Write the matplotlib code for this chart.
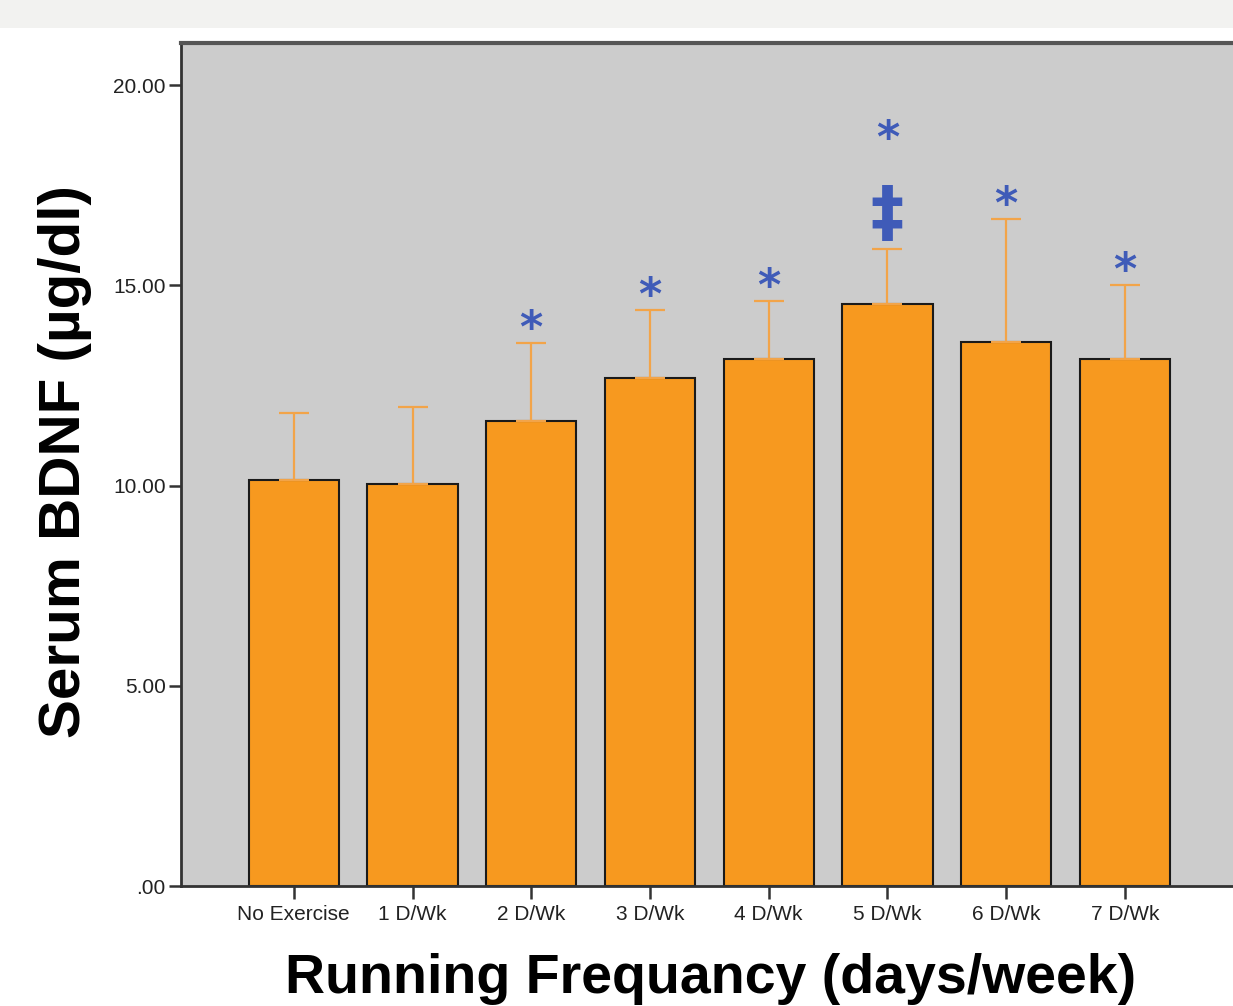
import matplotlib.pyplot as plt
from matplotlib.patches import Rectangle

# data
groups = ["No Exercise", "1 D/Wk", "2 D/Wk", "3 D/Wk", "4 D/Wk", "5 D/Wk", "6 D/Wk", "7 D/Wk"]
means = [10.14, 10.04, 11.61, 12.68, 13.16, 14.53, 13.58, 13.16]
err_up = [1.67, 1.92, 1.95, 1.70, 1.45, 1.37, 3.07, 1.85]
star_marks = [False, False, True, True, True, True, True, True]
dagger_marks = [False, False, False, False, False, True, False, False]
y_ticks = [0, 5, 10, 15, 20]
y_tick_labels = [".00", "5.00", "10.00", "15.00", "20.00"]

plt.rcParams["font.family"] = ["Liberation Sans", "DejaVu Sans"]

fig = plt.figure(figsize=(12.33, 10.06), dpi=100)
fig.patches.append(Rectangle((0, 1 - 28 / 1006), 1, 28 / 1006, transform=fig.transFigure,
                             facecolor="#f2f2f0", edgecolor="none", zorder=0))
ax = fig.add_axes([181 / 1233, 120 / 1006, 1 - 181 / 1233, 843 / 1006])
ax.set_facecolor("#cccccc")

x = list(range(len(groups)))
ax.bar(x, means, width=0.76, color="#f7991f", edgecolor="#1a1a1a", linewidth=1.5, zorder=2)
ax.errorbar(x, means, yerr=[[0] * len(means), err_up], fmt="none", ecolor="#f2a449",
            elinewidth=1.6, capsize=11, capthick=1.6, zorder=3)

blue = "#3f5bb8"
for i in x:
    top = means[i] + err_up[i]
    if dagger_marks[i]:
        ax.text(i, top + 0.85, "\u2021", color=blue, fontsize=48, fontweight="bold",
                ha="center", va="center", family=["DejaVu Sans"], zorder=4)
        ax.text(i, top + 2.75, "*", color=blue, fontsize=32, fontweight="bold",
                ha="center", va="center", family=["DejaVu Sans"], zorder=4)
    elif star_marks[i]:
        ax.text(i, top + 0.33, "*", color=blue, fontsize=32, fontweight="bold",
                ha="center", va="center", family=["DejaVu Sans"], zorder=4)

ax.set_xlim(-0.95, 7.91)
ax.set_ylim(0, 21.05)
ax.set_yticks(y_ticks)
ax.set_yticklabels(y_tick_labels, fontsize=15, color="#222222")
ax.set_xticks(x)
ax.set_xticklabels(groups, fontsize=15, color="#222222")
ax.tick_params(axis="both", direction="out", length=9, width=1.8, color="#333333", pad=2)
ax.tick_params(axis="x", pad=5)

for side in ["left", "bottom"]:
    ax.spines[side].set_linewidth(2)
    ax.spines[side].set_color("#333333")
ax.spines["top"].set_linewidth(3)
ax.spines["top"].set_color("#555555")
ax.spines["right"].set_visible(False)

fig.text(65 / 1233, 1 - 462 / 1006, "Serum BDNF (\u00b5g/dl)", rotation=90, fontsize=42,
         fontweight="bold", ha="center", va="center")
fig.text(711 / 1233, 1 - 979 / 1006, "Running Frequancy (days/week)", fontsize=40,
         fontweight="bold", ha="center", va="center")

fig.savefig("out.png", dpi=100)
